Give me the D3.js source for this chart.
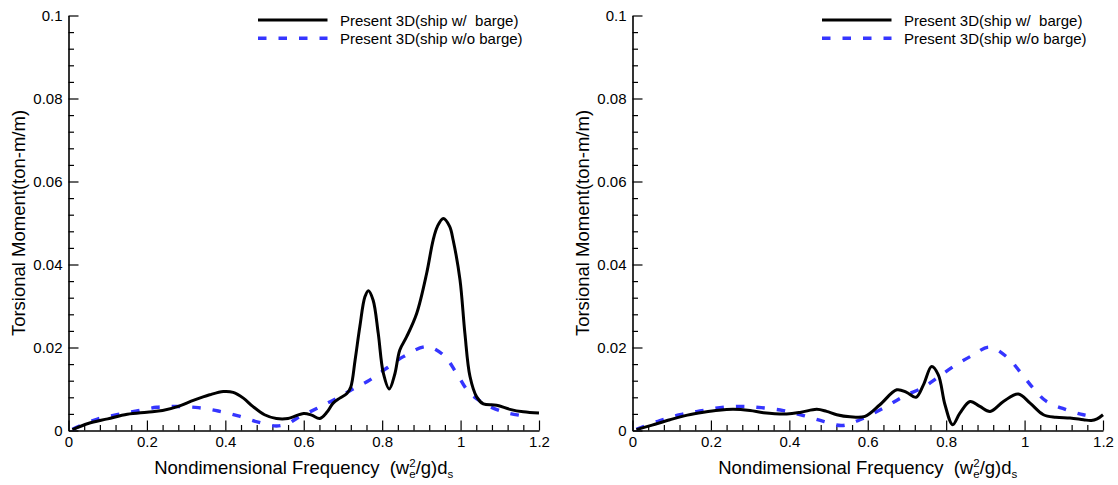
<!DOCTYPE html>
<html lang="en">
<head>
<meta charset="UTF-8" />
<title>Torsional Moment</title>
<script src="https://d3js.org/d3.v7.min.js"></script>
<style>
  body { margin: 0; background: #fff; }
  text { font-family: "Liberation Sans", Arial, sans-serif; fill: #000; }
</style>
</head>
<body>
<svg id="chart" width="1118" height="485"></svg>
<script>
// ---- data ----
var seriesNames = ["Present 3D(ship w/  barge)", "Present 3D(ship w/o barge)"];
var xTickLabels = ["0", "0.2", "0.4", "0.6", "0.8", "1", "1.2"];
var yTickLabels = ["0", "0.02", "0.04", "0.06", "0.08", "0.1"];

// left panel, ship with barge: [frequency, moment]
var leftWith = [
  [0.01,0.0002],[0.05,0.0017],[0.1,0.0028],[0.15,0.0039],[0.2,0.0044],[0.24,0.0048],
  [0.28,0.0058],[0.32,0.0073],[0.36,0.0086],[0.395,0.0094],[0.42,0.0092],[0.446,0.0078],
  [0.47,0.0058],[0.5,0.0038],[0.53,0.0029],[0.56,0.0029],[0.6,0.0041],[0.62,0.0037],
  [0.641,0.0029],[0.66,0.0045],[0.675,0.0066],[0.692,0.0078],[0.71,0.0089],[0.72,0.0105],
  [0.731,0.017],[0.743,0.025],[0.756,0.0322],[0.765,0.0337],[0.777,0.0314],[0.79,0.0234],
  [0.803,0.0138],[0.818,0.0100],[0.832,0.0135],[0.845,0.0194],[0.8625,0.0226],[0.888,0.0282],
  [0.9135,0.0379],[0.93,0.0459],[0.941,0.0492],[0.956,0.0511],[0.972,0.0492],[0.981,0.0459],
  [0.9985,0.0363],[1.011,0.0234],[1.024,0.013],[1.041,0.0081],[1.058,0.0064],[1.092,0.0061],
  [1.126,0.0051],[1.16,0.0045],[1.2,0.0042]
];
// left panel, ship without barge
var leftWithout = [
  [0.01,0.0003],[0.072,0.0027],[0.123,0.0038],[0.174,0.0047],[0.225,0.0056],[0.276,0.0058],
  [0.331,0.0055],[0.382,0.0047],[0.433,0.0035],[0.484,0.002],[0.53,0.0011],[0.56,0.0017],
  [0.582,0.0029],[0.633,0.0053],[0.675,0.0073],[0.722,0.0098],[0.769,0.0122],[0.811,0.015],
  [0.854,0.0178],[0.9135,0.0202],[0.956,0.0182],[0.99,0.0138],[1.02,0.0094],[1.058,0.0066],
  [1.109,0.0045],[1.16,0.0035],[1.17,0.0033]
];
// right panel, ship with barge
var rightWith = [
  [0.01,0.0002],[0.05,0.0013],[0.0956,0.0026],[0.14,0.0037],[0.181,0.0044],[0.22,0.0049],
  [0.257,0.0051],[0.3,0.0048],[0.334,0.0043],[0.393,0.004],[0.43,0.0044],[0.47,0.0051],
  [0.495,0.0046],[0.521,0.0038],[0.555,0.0033],[0.593,0.0034],[0.631,0.0062],[0.674,0.0098],
  [0.699,0.0092],[0.723,0.008],[0.742,0.011],[0.763,0.0154],[0.78,0.0134],[0.797,0.0062],
  [0.8166,0.0014],[0.835,0.0042],[0.861,0.007],[0.886,0.0058],[0.912,0.0046],[0.946,0.007],
  [0.984,0.0088],[1.014,0.0066],[1.048,0.0038],[1.08,0.0032],[1.116,0.003],[1.15,0.0026],
  [1.17,0.0024],[1.185,0.0028],[1.2,0.0038]
];
// right panel, ship without barge
var rightWithout = [
  [0.01,0.0003],[0.07,0.0024],[0.121,0.0038],[0.172,0.0047],[0.223,0.0055],[0.278,0.0058],
  [0.329,0.0055],[0.385,0.0048],[0.436,0.0036],[0.487,0.0022],[0.534,0.0012],[0.58,0.0026],
  [0.64,0.0054],[0.691,0.0082],[0.742,0.0104],[0.776,0.0126],[0.818,0.0154],[0.865,0.018],
  [0.91,0.0201],[0.954,0.0178],[0.988,0.0142],[1.022,0.0102],[1.056,0.007],[1.107,0.005],
  [1.15,0.0038],[1.18,0.0034]
];

var svg = d3.select("#chart");
var plotW = 470.5, plotH = 415;

function drawPanel(left, withData, withoutData) {
  var top = 15.5;
  var g = svg.append("g").attr("transform", "translate(" + left + "," + top + ")");

  var x = d3.scaleLinear().domain([0, 1.2]).range([0, plotW]);
  var y = d3.scaleLinear().domain([0, 0.1]).range([plotH, 0]);

  var xMajor = xTickLabels.map(Number);
  var yMajor = yTickLabels.map(Number);
  var xMinor = d3.range(0, 1.2001, 0.04).filter(function(v){ return Math.abs(v / 0.2 - Math.round(v / 0.2)) > 1e-6; });
  var yMinor = d3.range(0, 0.10001, 0.004).filter(function(v){ return Math.abs(v / 0.02 - Math.round(v / 0.02)) > 1e-6; });

  // minor ticks
  g.append("g").attr("class", "minor").attr("transform", "translate(0," + plotH + ")")
    .call(d3.axisBottom(x).tickValues(xMinor).tickSize(-5.5).tickFormat(""));
  g.append("g").attr("class", "minor")
    .call(d3.axisLeft(y).tickValues(yMinor).tickSize(-5.5).tickFormat(""));

  // major ticks + labels
  g.append("g").attr("class", "major").attr("transform", "translate(0," + plotH + ")")
    .call(d3.axisBottom(x).tickValues(xMajor).tickSize(-10).tickSizeOuter(0).tickPadding(6)
      .tickFormat(function(d, i){ return xTickLabels[i]; }));
  g.append("g").attr("class", "major")
    .call(d3.axisLeft(y).tickValues(yMajor).tickSize(-10).tickSizeOuter(0).tickPadding(6)
      .tickFormat(function(d, i){ return yTickLabels[i]; }));

  g.selectAll(".minor .domain").remove();
  g.selectAll(".tick line").attr("stroke", "#000").attr("stroke-width", 1.2);
  g.selectAll(".major .domain").attr("stroke", "#000").attr("stroke-width", 1.6);
  g.selectAll(".major text").style("font-size", "15px").attr("fill", "#000");

  // curves
  var line = d3.line()
    .x(function(d){ return x(d[0]); })
    .y(function(d){ return y(d[1]); })
    .curve(d3.curveCatmullRom.alpha(0.5));

  g.append("path").datum(withoutData)
    .attr("d", line).attr("fill", "none")
    .attr("stroke", "#3535ff").attr("stroke-width", 3.4)
    .attr("stroke-dasharray", "8.5,12");
  g.append("path").datum(withData)
    .attr("d", line).attr("fill", "none")
    .attr("stroke", "#000").attr("stroke-width", 3);

  // legend
  var leg = g.append("g").attr("transform", "translate(189.5,0)");
  leg.append("line").attr("x1", 0).attr("x2", 69.5).attr("y1", 4.5).attr("y2", 4.5)
    .attr("stroke", "#000").attr("stroke-width", 3);
  leg.append("line").attr("x1", 0).attr("x2", 69.5).attr("y1", 22.8).attr("y2", 22.8)
    .attr("stroke", "#3535ff").attr("stroke-width", 3.4).attr("stroke-dasharray", "8.5,12");
  leg.append("text").attr("x", 82).attr("y", 10).style("font-size", "15px")
    .style("white-space", "pre").text(seriesNames[0]);
  leg.append("text").attr("x", 82).attr("y", 28.3).style("font-size", "15px")
    .style("white-space", "pre").text(seriesNames[1]);

  // axis titles
  g.append("text")
    .attr("transform", "translate(-44," + (plotH / 2) + ") rotate(-90)")
    .attr("text-anchor", "middle").style("font-size", "18.5px")
    .text("Torsional Moment(ton-m/m)");

  var xt = g.append("text").attr("x", plotW / 2).attr("y", plotH + 43.5)
    .attr("text-anchor", "middle").style("font-size", "18.5px").style("white-space", "pre");
  xt.append("tspan").text("Nondimensional Frequency  (w");
  xt.append("tspan").attr("dy", -7.5).style("font-size", "11.5px").text("2");
  xt.append("tspan").attr("dx", -6.4).attr("dy", 11.5).style("font-size", "11.5px").text("e");
  xt.append("tspan").attr("dy", -4).text("/g)d");
  xt.append("tspan").attr("dy", 4).style("font-size", "11.5px").text("s");
}

drawPanel(68.5, leftWith, leftWithout);
drawPanel(632.5, rightWith, rightWithout);
</script>
</body>
</html>
